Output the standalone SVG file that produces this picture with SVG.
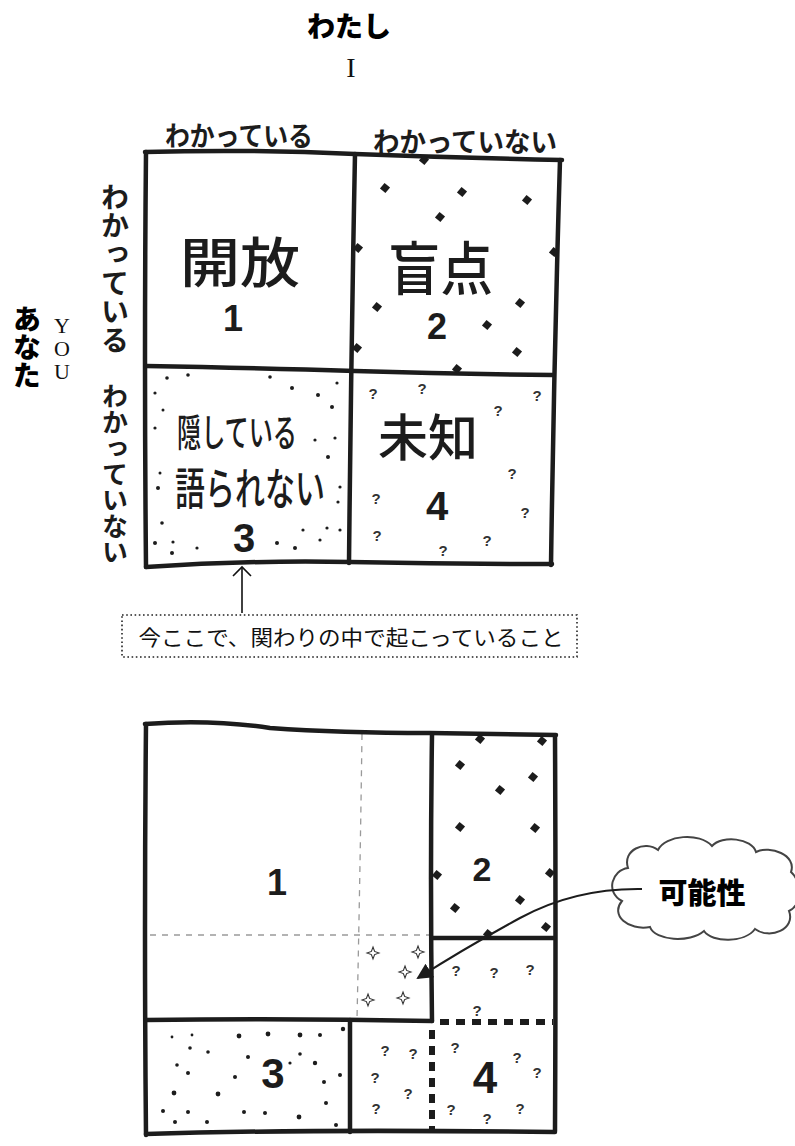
<svg xmlns="http://www.w3.org/2000/svg" xmlns:xlink="http://www.w3.org/1999/xlink" width="795" height="1146" viewBox="0 0 795 1146">
<style>
.ln{fill:none;stroke:#1c1c1c;stroke-width:4.5;stroke-linecap:round;stroke-linejoin:round}
.hd{font-family:"Noto Sans CJK JP","Noto Sans",sans-serif;font-weight:bold;fill:#1c1c1c}
.big{font-family:"Noto Sans CJK JP","Noto Sans",sans-serif;font-weight:500;fill:#1c1c1c}
.num{font-family:"Liberation Sans","Noto Sans",sans-serif;font-weight:bold;fill:#1c1c1c;text-anchor:middle}
.q{font-family:"Liberation Sans",sans-serif;font-size:15px;fill:#333;text-anchor:middle;font-weight:bold}
.bold{font-family:"Noto Sans CJK JP",sans-serif;font-weight:900;fill:#000}
.serif{font-family:"Liberation Serif",serif;fill:#111}
.dash{fill:none;stroke:#9a9a9a;stroke-width:1.3;stroke-dasharray:6 6}
.heavy{fill:none;stroke:#1c1c1c;stroke-width:6;stroke-dasharray:9 7}
.sd{fill:#1c1c1c}
.st{fill:none;stroke:#333;stroke-width:1.1}
</style>
<defs>
<rect id="dm" x="-3.6" y="-3.6" width="7.2" height="7.2" transform="rotate(40)"/>
<path id="star" d="M0 -6 L1.6 -1.6 L6 0 L1.6 1.6 L0 6 L-1.6 1.6 L-6 0 L-1.6 -1.6 Z"/>
<marker id="open" markerWidth="20" markerHeight="20" refX="10" refY="10" orient="auto" markerUnits="userSpaceOnUse">
<path d="M1 1 L10 10 L1 19" fill="none" stroke="#111" stroke-width="1.6"/>
</marker>
<marker id="solid" markerWidth="20" markerHeight="20" refX="14" refY="8" orient="auto" markerUnits="userSpaceOnUse">
<path d="M0 0 L16 8 L0 16 Z" fill="#1c1c1c"/>
</marker>
</defs>
<rect width="795" height="1146" fill="#fff"/>

<g id="title-me">
<text class="bold" x="349" y="37" font-size="28" text-anchor="middle">わたし</text>
<text class="serif" x="351" y="77" font-size="28" text-anchor="middle">I</text>
</g>

<g id="title-you">
<text class="bold" x="27" y="305" font-size="28" writing-mode="vertical-rl">あなた</text>
<text class="serif" font-size="22" text-anchor="middle"><tspan x="62" y="333">Y</tspan><tspan x="62" y="356">O</tspan><tspan x="62" y="379">U</tspan></text>
</g>

<g id="axis-labels">
<text class="hd" x="165" y="146" font-size="27" textLength="148" lengthAdjust="spacingAndGlyphs">わかっている</text>
<text class="hd" x="373" y="152" font-size="27" textLength="184" lengthAdjust="spacingAndGlyphs">わかっていない</text>
<text class="hd" x="115" y="183" font-size="28" letter-spacing="0.7" writing-mode="vertical-rl">わかっている</text>
<text class="hd" x="115" y="383" font-size="26" writing-mode="vertical-rl">わかっていない</text>
</g>

<g id="grid-top">
<path class="ln" d="M145 152 Q250 149 355 154 Q460 158 562 160"/>
<path class="ln" d="M146 152 Q144 360 146 567"/>
<path class="ln" d="M355 154 Q351 360 349 563"/>
<path class="ln" d="M560 160 Q554 360 551 565"/>
<path class="ln" d="M146 366 Q260 368 355 371 Q450 374 553 375"/>
<path class="ln" d="M146 567 Q250 560 350 562 Q450 564 552 564"/>
</g>

<g id="cell-open">
<text class="big" x="180" y="283" font-size="54" textLength="120" lengthAdjust="spacingAndGlyphs">開放</text>
<text class="num" x="233" y="331" font-size="36">1</text>
</g>

<g id="cell-blind">
<text class="big" x="388" y="290" font-size="58" textLength="105" lengthAdjust="spacingAndGlyphs">盲点</text>
<text class="num" x="437" y="339" font-size="36">2</text>
<g class="sd">
<use href="#dm" x="385" y="188"/><use href="#dm" x="462" y="192"/><use href="#dm" x="527" y="200"/><use href="#dm" x="440" y="217"/>
<use href="#dm" x="377" y="307"/><use href="#dm" x="520" y="303"/><use href="#dm" x="487" y="325"/><use href="#dm" x="517" y="352"/>
<use href="#dm" x="424" y="160"/><use href="#dm" x="358" y="248"/><use href="#dm" x="554" y="252"/><use href="#dm" x="357" y="348"/><use href="#dm" x="457" y="369"/>
</g>
</g>

<g id="cell-hidden">
<text class="big" x="177" y="446" font-size="38" textLength="120" lengthAdjust="spacingAndGlyphs">隠している</text>
<text class="big" x="175" y="505" font-size="44" textLength="150" lengthAdjust="spacingAndGlyphs">語られない</text>
<text class="num" x="244" y="552" font-size="40">3</text>
<g class="sd">
<circle cx="167" cy="378" r="1.8"/><circle cx="188" cy="375" r="1.8"/><circle cx="270" cy="377" r="1.8"/><circle cx="292" cy="388" r="2"/>
<circle cx="318" cy="395" r="2"/><circle cx="332" cy="407" r="2"/><circle cx="337" cy="383" r="1.6"/><circle cx="155" cy="393" r="1.6"/>
<circle cx="163" cy="410" r="1.5"/><circle cx="155" cy="428" r="1.6"/><circle cx="315" cy="440" r="1.6"/><circle cx="335" cy="438" r="1.6"/>
<circle cx="328" cy="457" r="2"/><circle cx="160" cy="473" r="1.5"/><circle cx="158" cy="488" r="2"/><circle cx="340" cy="487" r="1.6"/>
<circle cx="338" cy="502" r="1.6"/><circle cx="162" cy="523" r="1.8"/><circle cx="155" cy="543" r="2"/><circle cx="173" cy="542" r="1.6"/>
<circle cx="172" cy="553" r="2"/><circle cx="197" cy="548" r="1.6"/><circle cx="277" cy="543" r="2"/><circle cx="295" cy="548" r="2"/>
<circle cx="303" cy="530" r="1.6"/><circle cx="320" cy="540" r="1.6"/><circle cx="327" cy="528" r="1.6"/><circle cx="340" cy="530" r="1.6"/>
</g>
</g>

<g id="cell-unknown">
<text class="big" x="378" y="456" font-size="50" textLength="100" lengthAdjust="spacingAndGlyphs">未知</text>
<text class="num" x="437" y="520" font-size="40">4</text>
<text class="q" x="373" y="399">?</text><text class="q" x="422" y="394">?</text><text class="q" x="498" y="416">?</text><text class="q" x="537" y="401">?</text>
<text class="q" x="512" y="479">?</text><text class="q" x="376" y="504">?</text><text class="q" x="525" y="518">?</text><text class="q" x="377" y="541">?</text>
<text class="q" x="443" y="556">?</text><text class="q" x="487" y="546">?</text>
</g>

<g id="note-box">
<rect x="122" y="615" width="455" height="42" fill="none" stroke="#222" stroke-width="1.6" stroke-dasharray="1.6 2.6"/>
<text x="351" y="645" font-family="Noto Sans CJK JP, sans-serif" font-size="21" fill="#111" text-anchor="middle" textLength="425" lengthAdjust="spacingAndGlyphs">今ここで、関わりの中で起こっていること</text>
</g>

<g id="grid-bottom">
<path class="dash" d="M362 734 Q360 880 357 1019"/>
<path class="dash" d="M150 935 L430 935"/>
<path class="ln" d="M145 724 Q210 719 270 728 Q340 733 430 733 L556 735"/>
<path class="ln" d="M146 724 Q144 930 146 1135"/>
<path class="ln" d="M555 736 Q556 930 555 1131"/>
<path class="ln" d="M432 735 Q430 880 432 1021"/>
<path class="ln" d="M432 938 L554 938"/>
<path class="ln" d="M146 1020 Q290 1018 432 1021"/>
<path class="ln" d="M350 1020 L350 1132"/>
<path class="ln" d="M146 1134 Q300 1129 555 1132"/>
<path class="heavy" d="M440 1022 L553 1022"/>
<path class="heavy" d="M432 1030 L432 1132"/>
</g>

<g id="region-1">
<text class="num" x="277" y="895" font-size="36">1</text>
</g>

<g id="region-2">
<text class="num" x="482" y="881" font-size="34">2</text>
<g class="sd">
<use href="#dm" x="460" y="765"/><use href="#dm" x="500" y="790"/><use href="#dm" x="533" y="777"/><use href="#dm" x="460" y="827"/>
<use href="#dm" x="535" y="828"/><use href="#dm" x="455" y="908"/><use href="#dm" x="520" y="900"/><use href="#dm" x="488" y="934"/>
<use href="#dm" x="480" y="739"/><use href="#dm" x="542" y="741"/><use href="#dm" x="437" y="875"/><use href="#dm" x="550" y="873"/><use href="#dm" x="546" y="927"/>
</g>
</g>

<g id="region-potential">
<g class="st">
<use href="#star" x="373" y="953"/>
<use href="#star" x="418" y="952"/>
<use href="#star" x="405" y="972"/>
<use href="#star" x="368" y="1000"/>
<use href="#star" x="403" y="998"/>
</g>
</g>

<g id="region-3">
<text class="num" x="273" y="1088" font-size="42">3</text>
<g class="sd">
<circle cx="172" cy="1037" r="1.4"/><circle cx="192" cy="1035" r="1.4"/><circle cx="239" cy="1036" r="2.4"/><circle cx="268" cy="1034" r="2.4"/>
<circle cx="300" cy="1035" r="2.4"/><circle cx="320" cy="1035" r="2"/><circle cx="343" cy="1029" r="2.2"/><circle cx="190" cy="1048" r="1.8"/>
<circle cx="208" cy="1052" r="1.8"/><circle cx="248" cy="1057" r="2"/><circle cx="300" cy="1054" r="1.8"/><circle cx="177" cy="1065" r="1.8"/>
<circle cx="188" cy="1073" r="2"/><circle cx="235" cy="1077" r="2"/><circle cx="290" cy="1063" r="1.6"/><circle cx="315" cy="1063" r="2.2"/>
<circle cx="340" cy="1075" r="2"/><circle cx="174" cy="1093" r="2.4"/><circle cx="218" cy="1094" r="2.4"/><circle cx="324" cy="1082" r="2"/>
<circle cx="326" cy="1103" r="2"/><circle cx="163" cy="1111" r="2"/><circle cx="188" cy="1112" r="2"/><circle cx="244" cy="1112" r="2"/>
<circle cx="265" cy="1113" r="2"/><circle cx="299" cy="1117" r="2.4"/><circle cx="175" cy="1122" r="2"/><circle cx="207" cy="1122" r="2"/><circle cx="336" cy="1125" r="2"/>
</g>
</g>

<g id="region-4">
<text class="num" x="485" y="1093" font-size="44">4</text>
<text class="q" x="456" y="976">?</text><text class="q" x="494" y="978">?</text><text class="q" x="530" y="975">?</text><text class="q" x="477" y="1016">?</text>
<text class="q" x="385" y="1056">?</text><text class="q" x="413" y="1059">?</text><text class="q" x="375" y="1083">?</text><text class="q" x="408" y="1099">?</text><text class="q" x="376" y="1114">?</text>
<text class="q" x="455" y="1053">?</text><text class="q" x="517" y="1063">?</text><text class="q" x="537" y="1078">?</text><text class="q" x="451" y="1115">?</text><text class="q" x="487" y="1124">?</text><text class="q" x="520" y="1114">?</text>
</g>

<g id="cloud">
<path d="M628 868 C622 850 645 840 658 850 C665 835 700 832 712 846 C722 835 752 838 756 852 C770 845 797 855 791 872 C802 882 802 905 789 911 C796 929 770 940 755 929 C745 943 712 943 704 931 C690 943 655 941 650 927 C628 931 610 915 622 901 C605 892 612 870 628 868 Z" fill="#fff" stroke="#444" stroke-width="2"/>
<text class="bold" x="702" y="904" font-size="29" text-anchor="middle">可能性</text>
</g>

<g id="connectors">
<path d="M242 613 L242 567" fill="none" stroke="#111" stroke-width="1.6" marker-end="url(#open)"/>
<path d="M642 889 Q575 888 520 918 T418 978" fill="none" stroke="#1c1c1c" stroke-width="2" marker-end="url(#solid)"/>
</g>
</svg>
